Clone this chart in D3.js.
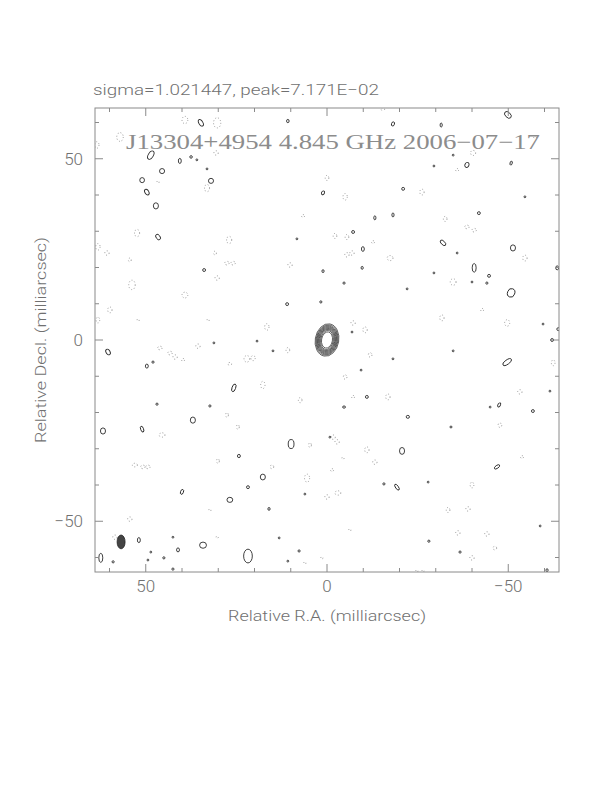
<!DOCTYPE html>
<html>
<head>
<meta charset="UTF-8">
<title>J13304+4954 4.845 GHz</title>
<script src="https://d3js.org/d3.v7.min.js"></script>
<style>
  body { margin: 0; background: #fff; }
  svg { display: block; }
</style>
</head>
<body>
<div id="chart"></div>
<script>
// plot limits, milliarcsec
const raRange  = [64, -64];
const decRange = [-64, 64];
const majorTicks = [50, 0, -50];
const minorTicks = [60, 40, 30, 20, 10, -10, -20, -30, -40, -60];

// central source: contour semi-axes (mas), outer to inner
const coreA = [3.25, 3.0, 2.8, 2.6, 2.4, 2.2, 2.0, 1.75, 1.5];
const coreB = [4.5, 4.2, 3.95, 3.7, 3.45, 3.2, 2.95, 2.65, 2.25];
const corePA = 10;

// restoring beam [ra, dec, a, b]
const beam = [56.8, -55.7, 1.1, 1.9];

// positive noise contours [ra, dec, a, b, pa]
const posContours = [
  [34.8,59.9,0.55,1.0,-30],[10.8,60.4,0.35,0.45,0],[48.6,51.0,0.7,1.25,30],[40.6,49.4,0.4,0.7,0],
  [37.5,50.5,0.35,0.35,0],[35.9,49.7,0.25,0.25,0],[45.5,46.6,0.7,0.7,0],[33.1,47.2,0.25,0.25,0],
  [32.0,43.9,0.7,0.7,0],[51.0,44.1,0.65,0.7,0],[49.7,40.8,0.55,0.85,-30],[47.2,37.0,0.7,0.85,0],
  [46.6,28.4,0.55,0.85,-35],[33.9,19.3,0.4,0.4,0],[8.3,27.9,0.25,0.25,0],[1.1,40.6,0.4,0.55,30],
  [1.1,19.0,0.3,0.4,0],[11.0,9.9,0.4,0.4,0],[1.7,10.5,0.3,0.3,0],[-49.9,62.1,0.7,1.1,-45],
  [-31.5,59.3,0.3,0.55,0],[-38.6,48.3,0.55,0.7,30],[-50.8,48.8,0.3,0.55,15],[-29.5,48.0,0.25,0.25,0],
  [-34.8,51.0,0.25,0.25,0],[-21.0,41.7,0.4,0.4,0],[-13.2,33.7,0.3,0.55,0],[-18.2,34.5,0.3,0.55,0],
  [-41.9,35.0,0.4,0.4,0],[-7.2,29.8,0.4,0.4,0],[-9.9,25.1,0.4,0.65,0],[-32.0,26.8,0.5,0.95,-45],
  [-35.9,24.0,0.25,0.25,0],[-51.3,25.4,0.7,0.85,0],[-9.7,19.9,0.3,0.4,0],[-4.7,15.7,0.3,0.3,0],
  [-40.6,19.9,0.55,1.2,0],[-44.7,17.7,0.4,0.4,0],[-40.0,16.0,0.25,0.25,0],[-44.1,15.7,0.3,0.3,0],
  [-50.8,13.0,1.0,1.2,20],[-29.5,18.5,0.25,0.25,0],[-22.1,14.1,0.25,0.25,0],[-63.5,19.9,0.4,0.55,0],
  [-59.6,4.4,0.25,0.25,0],[-54.6,39.5,0.25,0.25,0],[-63.8,3.0,0.4,0.4,0],[-18.2,59.6,0.4,0.6,20],
  [-6.9,2.2,0.25,0.25,0],[60.4,-3.3,0.55,0.85,-30],[49.7,-7.2,0.4,0.55,0],[48.0,-6.1,0.3,0.3,0],
  [25.7,-13.2,0.5,1.1,20],[46.9,-17.7,0.3,0.3,0],[32.3,-18.2,0.3,0.3,0],[37.0,-22.1,0.7,0.85,0],
  [61.8,-25.1,0.7,0.85,0],[51.0,-24.6,0.4,0.85,-20],[9.9,-28.7,0.8,1.25,0],[24.3,-32.0,0.4,0.45,0],
  [17.7,-37.8,0.7,0.8,0],[21.8,-40.6,0.4,0.4,0],[40.0,-41.9,0.4,0.7,20],[26.8,-44.1,0.8,0.7,0],
  [16.0,-46.6,0.3,0.4,0],[6.1,-42.5,0.25,0.25,0],[19.3,-0.3,0.25,0.25,0],[31.2,-0.8,0.25,0.25,0],
  [14.9,-3.0,0.25,0.25,0],[51.9,-55.2,0.4,0.7,0],[34.2,-56.6,0.95,0.85,0],[41.1,-57.9,0.4,0.55,0],
  [21.8,-59.6,1.2,1.9,0],[62.4,-60.1,0.55,1.25,0],[48.6,-58.5,0.25,0.25,0],[45.0,-60.1,0.3,0.3,0],
  [49.4,-60.7,0.25,0.25,0],[59.0,-61.2,0.3,0.3,0],[42.5,-54.4,0.25,0.25,0],[13.2,-54.6,0.25,0.25,0],
  [7.7,-58.2,0.3,0.3,0],[10.8,-61.0,0.25,0.25,0],[42.5,-63.2,0.3,0.3,0],[-0.8,-26.8,0.25,0.25,0],
  [-62.1,0.0,0.4,0.4,0],[-49.7,-6.1,1.4,0.6,-35],[-11.0,-15.7,0.4,0.4,0],[-4.7,-18.5,0.4,0.3,0],
  [-47.5,-17.9,0.35,0.6,30],[-45.0,-18.5,0.25,0.25,0],[-56.8,-19.6,0.4,0.4,0],[-22.3,-21.2,0.45,0.4,0],
  [-34.2,-24.0,0.3,0.25,0],[-20.7,-30.6,0.7,0.95,0],[-46.9,-35.0,0.85,0.4,-35],[-15.7,-39.7,0.3,0.3,0],
  [-19.3,-40.6,0.4,0.95,-35],[-27.9,-39.2,0.25,0.25,0],[-28.1,-55.5,0.3,0.3,0],[-36.7,-58.5,0.3,0.3,0],
  [-18.2,-5.2,0.25,0.25,0],[-9.4,-8.3,0.25,0.25,0],[-34.8,-3.0,0.25,0.25,0],[-58.8,-51.3,0.25,0.25,0],
  [-60.7,-63.5,0.3,0.4,0],[-61.5,-14.1,0.25,0.25,0]
];

// negative noise contours (dotted) [ra, dec, a, b]
const negContours = [
  [39.2,60.7,0.8,1.0],[30.3,59.9,1.0,1.4],[57.1,56.0,0.9,1.2],[63.5,53.8,0.6,0.9],
  [30.6,51.6,0.6,0.6],[33.1,41.9,0.7,1.0],[0.0,44.7,0.5,0.7],[52.4,29.5,0.7,1.0],
  [63.2,25.7,0.6,0.9],[60.7,24.0,0.6,0.6],[27.0,27.6,0.7,1.0],[54.4,22.1,0.4,0.5],
  [30.9,24.0,0.4,0.5],[27.6,21.2,0.6,0.5],[25.9,21.2,0.6,0.5],[10.2,20.7,0.6,0.6],
  [30.3,17.1,0.6,0.6],[53.8,15.2,0.9,1.3],[39.2,12.4,0.8,0.8],[59.9,8.3,0.6,0.8],
  [63.2,5.5,0.5,0.8],[16.6,3.6,0.6,0.9],[6.6,34.2,0.4,0.4],[46.6,43.6,0.3,0.3],
  [52.1,5.5,0.3,0.3],[32.8,5.5,0.3,0.3],[-15.4,63.7,0.5,0.4],[-40.3,51.6,0.7,0.7],
  [-5.0,39.5,0.6,0.9],[-26.2,40.8,0.6,0.8],[-38.6,31.2,0.6,0.5],[-40.6,30.3,0.6,0.5],
  [-32.6,33.4,0.5,0.7],[-5.5,28.4,0.5,0.7],[-2.2,28.7,0.5,0.7],[-12.7,27.0,0.4,0.4],
  [-5.5,23.5,0.6,0.6],[-6.9,24.0,0.6,0.6],[-17.4,22.6,0.8,0.7],[-54.6,22.6,0.6,0.8],
  [-34.8,16.0,0.8,0.9],[-7.2,4.7,0.6,0.6],[-10.5,2.8,0.6,0.8],[-31.7,6.1,0.6,0.8],
  [-42.8,8.3,0.4,0.4],[-49.7,4.7,0.7,0.9],[-35.9,46.9,0.4,0.4],[-57.4,56.0,0.4,0.4],
  [46.1,-2.2,0.6,0.5],[43.3,-3.6,0.6,0.5],[41.9,-4.7,0.6,0.6],[39.7,-5.5,0.4,0.4],
  [35.6,-1.7,0.6,0.6],[26.8,-6.6,0.5,0.4],[22.1,-5.2,0.8,0.9],[20.4,-5.0,0.6,0.7],
  [10.8,-2.8,0.5,0.7],[17.7,-12.4,0.6,1.0],[7.4,-16.6,0.5,0.7],[27.6,-20.7,0.4,0.6],
  [24.6,-24.0,0.4,0.6],[45.5,-26.2,0.8,0.6],[4.7,-29.0,0.4,0.6],[30.1,-33.4,0.4,0.6],
  [53.0,-34.5,0.7,0.5],[50.8,-35.0,0.6,0.5],[49.4,-35.0,0.6,0.5],[15.2,-35.0,0.5,0.5],
  [5.5,-38.1,0.7,1.1],[0.0,-43.3,0.6,0.6],[54.4,-49.4,0.6,0.6],[32.3,-46.9,0.3,0.3],
  [58.5,-54.4,0.6,0.6],[30.3,-54.4,0.3,0.3],[6.1,-61.5,0.3,0.3],[1.4,-60.1,0.3,0.3],
  [-11.9,-4.1,0.5,0.6],[-5.0,-10.2,0.5,0.6],[-7.2,-15.7,0.4,0.4],[-16.8,-15.7,0.6,0.8],
  [-1.7,-26.8,0.6,0.6],[-2.8,-28.1,0.6,0.6],[-11.0,-30.3,0.6,0.8],[-13.2,-33.7,0.6,0.6],
  [-4.4,-32.6,0.3,0.3],[-1.4,-35.9,0.4,0.4],[-3.0,-42.2,0.8,0.6],[-53.2,-14.3,0.6,0.6],
  [-62.4,-6.3,0.5,0.8],[-47.7,-23.5,0.5,0.6],[-53.8,-32.3,0.4,0.4],[-40.0,-40.0,0.5,0.8],
  [-38.9,-46.6,0.6,0.6],[-33.4,-46.9,0.5,0.7],[-6.3,-52.4,0.3,0.3],[-36.1,-53.2,0.6,0.6],
  [-44.1,-53.5,0.6,0.6],[-46.3,-57.4,0.5,0.5],[-40.0,-60.1,0.6,0.6],[-24.8,-63.7,0.3,0.3],
  [-26.5,-63.7,0.3,0.3]
];

const headerText = 'sigma=1.021447, peak=7.171E\u221202';
const titleText  = 'J13304+4954 4.845 GHz  2006\u221207\u221217';
const xTitle = 'Relative R.A. (milliarcsec)';
const yTitle = 'Relative Decl. (milliarcsec)';

const W = 612, H = 792;
const M = { left: 95, right: 559, top: 108, bottom: 572 };
const frameCol = '#8a8a8a', textCol = '#707070', lineCol = '#2a2a2a';
const sansFont = 'Roboto, Liberation Sans, sans-serif';

const svg = d3.select('#chart').append('svg').attr('width', W).attr('height', H);

const x = d3.scaleLinear().domain(raRange).range([M.left, M.right]);
const y = d3.scaleLinear().domain(decRange).range([M.bottom, M.top]);
const k = Math.abs(x(1) - x(0));   // px per mas

svg.append('clipPath').attr('id', 'clip')
  .append('rect').attr('x', M.left).attr('y', M.top)
  .attr('width', M.right - M.left).attr('height', M.bottom - M.top);

const plot = svg.append('g').attr('clip-path', 'url(#clip)');

// negative contours
plot.append('g').selectAll('ellipse').data(negContours).join('ellipse')
  .attr('cx', d => x(d[0])).attr('cy', d => y(d[1]))
  .attr('rx', d => d[2] * k).attr('ry', d => d[3] * k)
  .attr('fill', 'none').attr('stroke', '#8f8f8f').attr('stroke-width', 0.9)
  .attr('stroke-dasharray', '1,2');

// positive contours
plot.append('g').selectAll('ellipse').data(posContours).join('ellipse')
  .attr('transform', d => `translate(${x(d[0])},${y(d[1])}) rotate(${d[4]})`)
  .attr('rx', d => d[2] * k).attr('ry', d => d[3] * k)
  .attr('fill', 'none').attr('stroke', lineCol).attr('stroke-width', 0.9);

// core
plot.append('g').selectAll('ellipse').data(d3.range(coreA.length)).join('ellipse')
  .attr('transform', `translate(${x(0)},${y(0)}) rotate(${corePA})`)
  .attr('rx', i => coreA[i] * k).attr('ry', i => coreB[i] * k)
  .attr('fill', 'none').attr('stroke', '#333').attr('stroke-width', 0.7);

// beam
plot.append('ellipse')
  .attr('cx', x(beam[0])).attr('cy', y(beam[1]))
  .attr('rx', beam[2] * k).attr('ry', beam[3] * k)
  .attr('fill', '#444').attr('stroke', '#222').attr('stroke-width', 0.8);

// frame
svg.append('rect').attr('x', M.left).attr('y', M.top)
  .attr('width', M.right - M.left).attr('height', M.bottom - M.top)
  .attr('fill', 'none').attr('stroke', frameCol).attr('stroke-width', 1);

// ticks, pointing inward on all sides
const ticks = svg.append('g').attr('stroke', frameCol).attr('stroke-width', 1);
function tickSet(vals, len) {
  vals.forEach(v => {
    const px = x(v), py = y(v);
    ticks.append('line').attr('x1', px).attr('x2', px).attr('y1', M.bottom).attr('y2', M.bottom - len);
    ticks.append('line').attr('x1', px).attr('x2', px).attr('y1', M.top).attr('y2', M.top + len);
    ticks.append('line').attr('y1', py).attr('y2', py).attr('x1', M.left).attr('x2', M.left + len);
    ticks.append('line').attr('y1', py).attr('y2', py).attr('x1', M.right).attr('x2', M.right - len);
  });
}
tickSet(majorTicks, 8);
tickSet(minorTicks, 4);

const fmt = v => v < 0 ? '\u2212' + Math.abs(v) : String(v);
const lab = svg.append('g').attr('font-family', sansFont).attr('font-weight', 300)
  .attr('font-size', 17).attr('fill', textCol);
majorTicks.forEach(v => {
  lab.append('text').attr('x', x(v)).attr('y', M.bottom + 20)
    .attr('text-anchor', 'middle').text(fmt(v));
  lab.append('text').attr('x', M.left - 12).attr('y', y(v) + 6)
    .attr('text-anchor', 'end').text(fmt(v));
});

svg.append('text').attr('x', 93).attr('y', 95)
  .attr('font-family', sansFont).attr('font-weight', 300).attr('font-size', 15)
  .attr('fill', textCol).attr('textLength', 286).attr('lengthAdjust', 'spacingAndGlyphs')
  .text(headerText);

svg.append('text').attr('x', 126).attr('y', 149)
  .attr('font-family', 'Liberation Serif, serif').attr('font-size', 21)
  .attr('fill', '#8c8c8c').attr('textLength', 414).attr('lengthAdjust', 'spacingAndGlyphs')
  .text(titleText);

svg.append('text').attr('x', (M.left + M.right) / 2).attr('y', 621)
  .attr('text-anchor', 'middle')
  .attr('font-family', sansFont).attr('font-weight', 300).attr('font-size', 15)
  .attr('fill', textCol).attr('textLength', 198).attr('lengthAdjust', 'spacingAndGlyphs')
  .text(xTitle);

svg.append('text')
  .attr('transform', `translate(46,${(M.top + M.bottom) / 2}) rotate(-90)`)
  .attr('text-anchor', 'middle')
  .attr('font-family', sansFont).attr('font-weight', 300).attr('font-size', 15)
  .attr('fill', textCol).attr('textLength', 206).attr('lengthAdjust', 'spacingAndGlyphs')
  .text(yTitle);
</script>
</body>
</html>
